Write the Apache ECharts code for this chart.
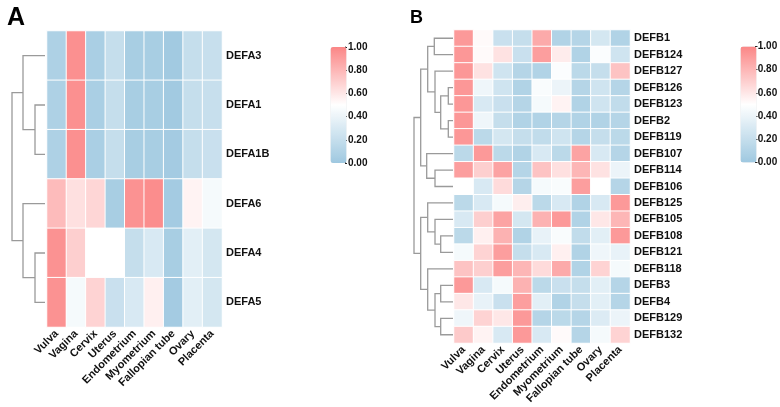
<!DOCTYPE html>
<html>
<head>
<meta charset="utf-8">
<script src="https://cdn.jsdelivr.net/npm/echarts@6/dist/echarts.min.js"></script>
<style>
html,body{margin:0;padding:0;background:#fff;}
#canvas{width:780px;height:407px;}
</style>
</head>
<body>
<div id="canvas"></div>
<script>
var tissues = ['Vulva','Vagina','Cervix','Uterus','Endometrium','Myometrium','Fallopian tube','Ovary','Placenta'];

var genesA = ['DEFA3','DEFA1','DEFA1B','DEFA6','DEFA4','DEFA5'];
var valuesA = [
    [0.08,0.96,0.06,0.20,0.05,0.05,0.02,0.20,0.21],
    [0.08,0.96,0.06,0.20,0.05,0.05,0.02,0.20,0.21],
    [0.08,0.96,0.06,0.20,0.05,0.05,0.03,0.20,0.22],
    [0.78,0.63,0.67,0.05,0.95,0.97,0.03,0.55,0.45],
    [0.95,0.70,0.50,0.50,0.20,0.30,0.05,0.35,0.28],
    [0.95,0.45,0.68,0.22,0.30,0.56,0.03,0.35,0.28]
];
// merges: [left, right, height]; index >= n points to an earlier merge
var linkA = [[1,2,10],[4,5,10],[0,6,22],[3,7,22],[8,9,33]];

var genesB = ['DEFB1','DEFB124','DEFB127','DEFB126','DEFB123','DEFB2','DEFB119','DEFB107','DEFB114','DEFB106',
    'DEFB125','DEFB105','DEFB108','DEFB121','DEFB118','DEFB3','DEFB4','DEFB129','DEFB132'];
var valuesB = [
    [0.92,0.52,0.22,0.20,0.85,0.10,0.12,0.28,0.10],
    [0.93,0.52,0.62,0.22,0.90,0.58,0.10,0.48,0.25],
    [0.93,0.62,0.25,0.12,0.10,0.48,0.15,0.20,0.75],
    [0.93,0.42,0.25,0.10,0.47,0.40,0.12,0.25,0.12],
    [0.93,0.30,0.22,0.12,0.45,0.55,0.10,0.25,0.18],
    [0.93,0.42,0.20,0.10,0.10,0.12,0.10,0.10,0.12],
    [0.93,0.15,0.28,0.20,0.18,0.25,0.12,0.20,0.15],
    [0.15,0.92,0.15,0.10,0.30,0.15,0.88,0.30,0.12],
    [0.90,0.70,0.88,0.12,0.75,0.63,0.80,0.62,0.40],
    [0.50,0.30,0.65,0.12,0.45,0.47,0.90,0.50,0.12],
    [0.15,0.30,0.45,0.57,0.15,0.30,0.10,0.30,0.92],
    [0.30,0.70,0.88,0.28,0.82,0.92,0.10,0.60,0.80],
    [0.15,0.56,0.82,0.10,0.38,0.47,0.18,0.35,0.92],
    [0.45,0.68,0.90,0.20,0.30,0.56,0.10,0.42,0.38],
    [0.75,0.70,0.90,0.80,0.65,0.85,0.10,0.68,0.45],
    [0.92,0.30,0.45,0.82,0.15,0.22,0.20,0.35,0.12],
    [0.60,0.38,0.22,0.90,0.35,0.10,0.20,0.35,0.12],
    [0.42,0.68,0.60,0.92,0.12,0.15,0.12,0.32,0.40],
    [0.72,0.55,0.30,0.92,0.30,0.52,0.12,0.45,0.68]
];
var linkB = [[3,4,4.7],[5,6,4.7],[19,20,12.3],[2,21,18],[0,1,18.7],[23,22,25.3],
    [8,9,18],[7,25,26.3],[24,26,32.3],[12,13,12.3],[11,28,18],[10,29,25.3],
    [15,16,12.3],[17,18,12.3],[31,32,18],[14,33,25.3],[30,34,32.3],[27,35,39]];

var scaleTicks = [0, 0.2, 0.4, 0.6, 0.8, 1.0];

var fontName = '"Liberation Sans", Arial, sans-serif';
var labelColor = '#111';

function heatData(values){
    var out = [];
    for (var r = 0; r < values.length; r++) {
        for (var c = 0; c < values[r].length; c++) {
            out.push([c, r, values[r][c]]);
        }
    }
    return out;
}

// turn linkage into elbow segments: [height, yLeft, yRight, hLeft, hRight]
function dendroData(link, n){
    var ys = [], hs = [], out = [];
    for (var i = 0; i < n; i++) { ys.push(i + 0.5); hs.push(0); }
    for (var k = 0; k < link.length; k++) {
        var a = link[k][0], b = link[k][1], h = link[k][2];
        out.push([h, ys[a], ys[b], hs[a], hs[b]]);
        ys.push((ys[a] + ys[b]) / 2);
        hs.push(h);
    }
    return out;
}

function renderElbow(params, api){
    var h = api.value(0), y1 = api.value(1), y2 = api.value(2);
    var p1 = api.coord([api.value(3), y1]);
    var p2 = api.coord([h, y1]);
    var p3 = api.coord([h, y2]);
    var p4 = api.coord([api.value(4), y2]);
    return {
        type: 'polyline',
        shape: {points: [p1, p2, p3, p4]},
        style: {stroke: '#9a9a9a', lineWidth: 1.3, fill: null}
    };
}

function heatX(gi){
    return {
        type: 'category', gridIndex: gi, data: tissues, position: 'bottom',
        axisLine: {show: false}, axisTick: {show: false}, splitArea: {show: false},
        axisLabel: {rotate: 45, margin: 5, fontSize: 11, fontWeight: 'bold', color: labelColor, fontFamily: fontName, interval: 0}
    };
}
function heatY(gi, genes){
    return {
        type: 'category', gridIndex: gi, data: genes, position: 'right', inverse: true,
        axisLine: {show: false}, axisTick: {show: false},
        axisLabel: {margin: 4, fontSize: 11, fontWeight: 'bold', color: labelColor, fontFamily: fontName, interval: 0}
    };
}
function dendroX(gi, maxH){
    return {type: 'value', gridIndex: gi, min: 0, max: maxH, inverse: true, show: false};
}
function dendroY(gi, n){
    return {type: 'value', gridIndex: gi, min: 0, max: n, inverse: true, show: false};
}
function barX(gi){
    return {type: 'value', gridIndex: gi, show: false};
}
function barY(gi){
    return {
        type: 'value', gridIndex: gi, min: scaleTicks[0], max: scaleTicks[scaleTicks.length - 1], interval: 0.2,
        position: 'right',
        axisLine: {show: true, lineStyle: {color: '#222', width: 1}},
        axisTick: {show: true, length: 2, lineStyle: {color: '#222'}},
        splitLine: {show: false},
        axisLabel: {margin: 2, fontSize: 10, fontWeight: 'bold', color: labelColor, fontFamily: fontName,
            formatter: function(v){ return v.toFixed(2); }}
    };
}
function scaleBar(left, top, si){
    return {
        type: 'continuous', min: 0, max: 1, seriesIndex: si,
        left: left, top: top, itemWidth: 16, itemHeight: 116, padding: 0,
        calculable: false, hoverLink: false, text: null,
        formatter: function(){ return ''; },
        textStyle: {color: 'rgba(0,0,0,0)'},
        inRange: {color: ['#9ec8e0', '#ffffff', '#fb8686']}
    };
}

var myChart = echarts.init(document.getElementById('canvas'));
var option = {
    animation: false,
    backgroundColor: '#fff',
    title: [
        {text: 'A', left: 2, top: 1, textStyle: {fontSize: 25, fontWeight: 'bold', color: '#000', fontFamily: fontName}},
        {text: 'B', left: 405, top: 4, textStyle: {fontSize: 18, fontWeight: 'bold', color: '#000', fontFamily: fontName}}
    ],
    grid: [
        {left: 47, top: 31, width: 175, height: 296},
        {left: 12, top: 31, width: 33, height: 296},
        {left: 345, top: 47, width: 1, height: 116},
        {left: 454, top: 30, width: 176, height: 313},
        {left: 414, top: 30, width: 39, height: 313},
        {left: 755.5, top: 46.5, width: 1, height: 116}
    ],
    xAxis: [heatX(0), dendroX(1, linkA[linkA.length - 1][2]), barX(2),
            heatX(3), dendroX(4, linkB[linkB.length - 1][2]), barX(5)],
    yAxis: [heatY(0, genesA), dendroY(1, genesA.length), barY(2),
            heatY(3, genesB), dendroY(4, genesB.length), barY(5)],
    visualMap: [scaleBar(330.5, 47, 0), scaleBar(740.5, 46.5, 2)],
    series: [
        {type: 'heatmap', xAxisIndex: 0, yAxisIndex: 0, data: heatData(valuesA),
         itemStyle: {borderColor: '#fff', borderWidth: 1}, emphasis: {disabled: true}},
        {type: 'custom', xAxisIndex: 1, yAxisIndex: 1, data: dendroData(linkA, genesA.length),
         renderItem: renderElbow, silent: true},
        {type: 'heatmap', xAxisIndex: 3, yAxisIndex: 3, data: heatData(valuesB),
         itemStyle: {borderColor: '#fff', borderWidth: 1}, emphasis: {disabled: true}},
        {type: 'custom', xAxisIndex: 4, yAxisIndex: 4, data: dendroData(linkB, genesB.length),
         renderItem: renderElbow, silent: true}
    ]
};
myChart.setOption(option);
window.onresize = myChart.resize;
</script>
</body>
</html>
